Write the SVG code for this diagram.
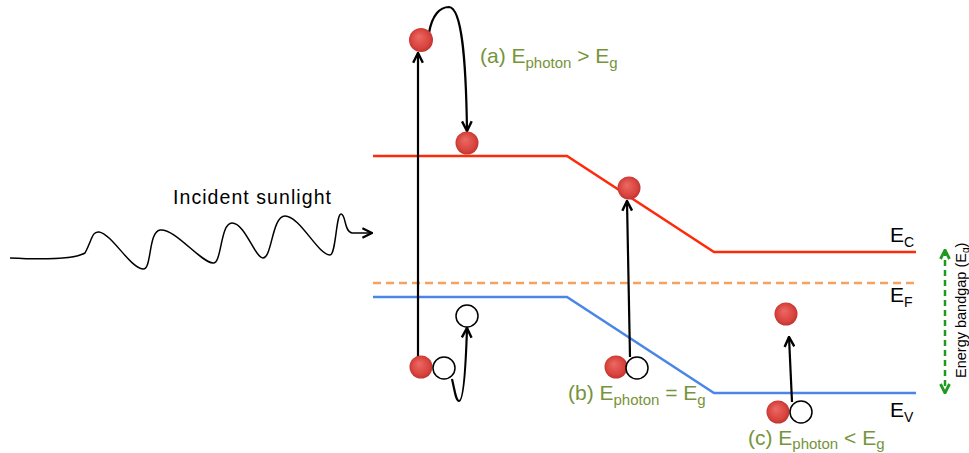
<svg xmlns="http://www.w3.org/2000/svg" width="969" height="453" viewBox="0 0 969 453">
<style>
.t{font-family:"Liberation Sans",Arial,sans-serif;fill:#000}
.g{font-family:"Liberation Sans",Arial,sans-serif;fill:#77933C}
.arr{fill:none;stroke:#000;stroke-width:2.2;marker-end:url(#ah)}
.el{fill:url(#eg)}
.hole{fill:#fff;stroke:#000;stroke-width:1.5}
.band{fill:none;stroke-width:2.5}
</style>
<defs>
<radialGradient id="eg" cx="0.5" cy="0.5" r="0.55" fx="0.4" fy="0.35">
<stop offset="0" stop-color="#EC6A64"/>
<stop offset="0.7" stop-color="#D9443E"/>
<stop offset="1" stop-color="#B8302C"/>
</radialGradient>
<marker id="ah" viewBox="0 0 10 10" refX="9" refY="5" markerWidth="5.5" markerHeight="5.5" orient="auto" markerUnits="strokeWidth">
<path d="M1,1 L9,5 L1,9" fill="none" stroke="#000" stroke-width="2"/>
</marker>
<marker id="ahw" viewBox="0 0 10 10" refX="9" refY="5" markerWidth="8" markerHeight="8" orient="auto" markerUnits="strokeWidth">
<path d="M1,1 L9,5 L1,9" fill="none" stroke="#000" stroke-width="1.8"/>
</marker>
<marker id="gah" viewBox="0 0 10 10" refX="9" refY="5" markerWidth="4.5" markerHeight="4.5" orient="auto-start-reverse" markerUnits="strokeWidth">
<path d="M1,1 L9,5 L1,9" fill="none" stroke="#1E9A1E" stroke-width="2.5"/>
</marker>
</defs>
<g id="bands">
<polyline class="band" stroke="#FF2A0A" points="373,156 567,156 714,252 916,252"/>
<polyline class="band" stroke="#4A86E8" points="373,297 567,297 714,393 916,393"/>
<line x1="373" y1="283" x2="916" y2="283" stroke="#F6A25E" stroke-width="2.5" stroke-dasharray="8,5"/>
</g>
<g id="connectors">
<path d="M10,258 C50,260 75,259 85,253 C92,240 92,231 99,232 C112,234 130,268 143,269 C152,270 148,232 160,230 C175,228 200,262 213,263 C222,264 220,223 232,223 C245,223 255,258 263,258 C272,258 272,216 285,216 C300,216 318,255 330,255 C336,255 336,214 341,214 C346,214 344,232 352,233 L372,233" fill="none" stroke="#000" stroke-width="1.5" marker-end="url(#ahw)"/>
<line class="arr" x1="418" y1="357" x2="418" y2="53"/>
<path class="arr" d="M429,33 C432,15 440,7 449,7 C462,8 466,60 467,131"/>
<path class="arr" d="M452,379 C455,392 456,401 459,401 C464,401 466,360 467,328"/>
<line class="arr" x1="630" y1="357" x2="627" y2="201"/>
<line class="arr" x1="792" y1="402" x2="789" y2="337"/>
<line x1="945" y1="250" x2="945" y2="393" stroke="#1E9A1E" stroke-width="2.5" stroke-dasharray="6,4" marker-start="url(#gah)" marker-end="url(#gah)"/>
</g>
<g id="particles-a">
<circle class="el" cx="421" cy="40" r="12"/>
<circle class="el" cx="467" cy="143" r="11.5"/>
<circle class="el" cx="421" cy="367" r="11.5"/>
<circle class="hole" cx="444" cy="368" r="11"/>
<circle class="hole" cx="467" cy="316" r="11"/>
</g>
<g id="particles-b">
<circle class="el" cx="629" cy="188" r="11.5"/>
<circle class="el" cx="616" cy="367" r="11.5"/>
<circle class="hole" cx="637" cy="368" r="11"/>
</g>
<g id="particles-c">
<circle class="el" cx="786" cy="314" r="11.5"/>
<circle class="el" cx="778" cy="412" r="11.5"/>
<circle class="hole" cx="801" cy="412" r="11"/>
</g>
<g id="labels">
<text class="t" x="173" y="204" font-size="19.5" textLength="158" lengthAdjust="spacing">Incident sunlight</text>
<text class="g" x="480" y="63" font-size="21">(a) E<tspan font-size="15" dy="5">photon</tspan><tspan dy="-5"> &gt; E</tspan><tspan font-size="15" dy="5">g</tspan></text>
<text class="g" x="568" y="400" font-size="21">(b) E<tspan font-size="15" dy="5">photon</tspan><tspan dy="-5"> = E</tspan><tspan font-size="15" dy="5">g</tspan></text>
<text class="g" x="748" y="445" font-size="21">(c) E<tspan font-size="15" dy="4">photon</tspan><tspan dy="-4"> &lt; E</tspan><tspan font-size="15" dy="4">g</tspan></text>
<text class="t" x="890" y="242" font-size="21">E<tspan font-size="14" dy="5">C</tspan></text>
<text class="t" x="890" y="302" font-size="21">E<tspan font-size="14" dy="5">F</tspan></text>
<text class="t" x="890" y="417" font-size="21">E<tspan font-size="14" dy="5">V</tspan></text>
<text class="t" transform="translate(966,378) rotate(-90)" font-size="14.5">Energy bandgap (E<tspan font-size="10" dy="3">g</tspan><tspan dy="-3">)</tspan></text>
</g>
</svg>
